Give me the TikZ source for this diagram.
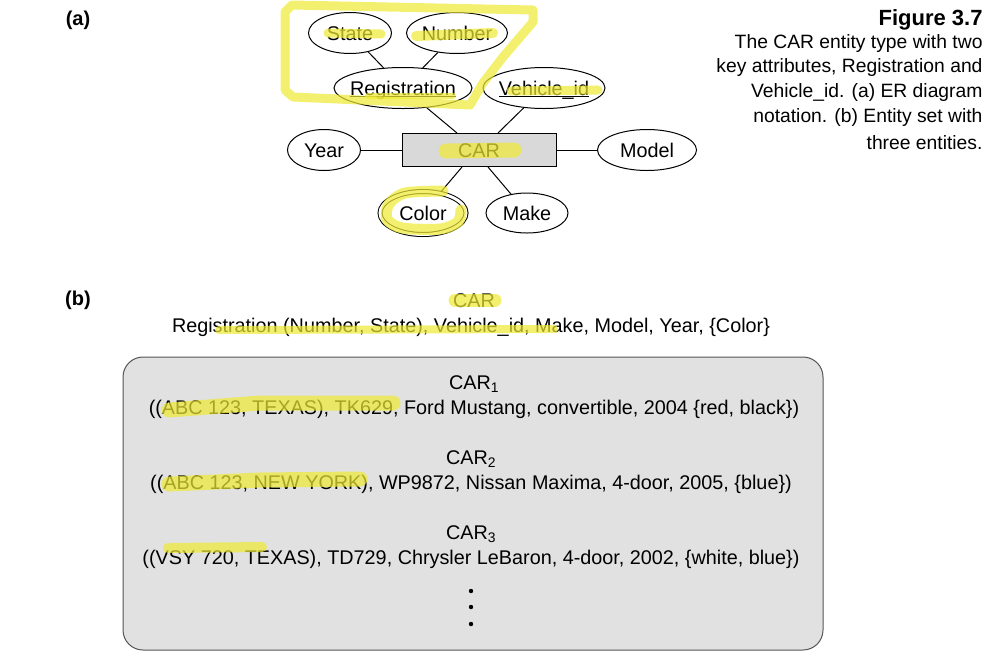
\documentclass[tikz,border=0pt]{standalone}
\usepackage{fontspec}
\setmainfont{Liberation Sans}
\usepackage{tikz}
\usetikzlibrary{shapes.geometric, positioning}
\definecolor{entgray}{RGB}{217,217,217}
\definecolor{setgray}{RGB}{225,225,225}
\definecolor{setedge}{RGB}{85,85,85}
\definecolor{hilite}{RGB}{240,234,50}
\newcommand{\keyattr}[1]{\makebox[0pt]{\underline{\smash{#1}}}}
\newcommand{\carfont}{\fontsize{19.8}{22}\selectfont}
\newcommand{\capfont}{\fontsize{19.3}{22}\selectfont}

\begin{document}
\begin{tikzpicture}[x=1pt, y=-1pt, line width=1pt,
  attr/.style={ellipse, draw, inner sep=0pt, minimum height=41pt, text height=16pt,
               text depth=2pt, font=\carfont},
  ent/.style={rectangle, draw, fill=entgray, minimum width=154pt, minimum height=33pt,
              text height=16pt, text depth=2pt, font=\carfont},
  txt/.style={inner sep=0pt, font=\carfont},
  tag/.style={inner sep=0pt, font=\fontsize{20}{22}\selectfont\bfseries},
  marker/.style={draw=hilite, draw opacity=0.7, line cap=round, line join=round}]
  \useasboundingbox (0,0) rectangle (1000,665);

  % (a) ER diagram
  \node[tag] (taga) at (78,20) {(a)};
  \node[ent] (car) at (479,150) {CAR};
  \node[attr, minimum width=83pt] (state) at (350,33) {State};
  \node[attr, minimum width=101pt] (number) at (457,33) {Number};
  \node[attr, minimum width=138pt] (reg) at (403,88) {\keyattr{Registration}};
  \node[attr, minimum width=122pt] (vid) at (544,88) {\keyattr{Vehicle\_id}};
  \node[attr, minimum width=73pt] (year) at (324,150) {Year};
  \node[attr, minimum width=99pt] (model) at (647,150) {Model};
  \node[attr, minimum width=86pt, minimum height=43pt, double, double distance=3pt,
        outer sep=2.5pt] (color) at (423,213) {Color};
  \node[attr, minimum width=82pt, minimum height=40pt] (make) at (527,213) {Make};

  \draw (state) -- (reg);
  \draw (number) -- (reg);
  \draw (reg) -- ([xshift=-22pt]car.north);
  \draw (vid) -- ([xshift=19pt]car.north);
  \draw (year) -- (car);
  \draw (car) -- (model);
  \draw ([xshift=-17pt]car.south) -- (color);
  \draw ([xshift=9pt]car.south) -- (make);

  % caption
  \node[tag, anchor=east, font=\fontsize{22}{24}\selectfont\bfseries] (fig) at (983,20) {Figure 3.7};
  \foreach \y/\l in {44/The CAR entity type with two,
                     68/{key attributes, Registration and},
                     93/Vehicle\_id. (a) ER diagram,
                     118/notation. (b) Entity set with,
                     143/three entities.} {
    \node[txt, anchor=east, font=\capfont] at (983,\y) {\l};
  }

  % (b) entity set
  \node[tag] (tagb) at (78,300) {(b)};
  \node[txt] (settitle) at (474,301) {CAR};
  \node[txt] (setattrs) at (471,327) {Registration (Number, State), Vehicle\_id, Make, Model, Year, \{Color\}};
  \node[draw=setedge, fill=setgray, rounded corners=20pt, minimum width=700pt,
        minimum height=293pt] (entset) at (473,503.5) {};

  \node[txt] (car1) at (474,384) {CAR\textsubscript{1}};
  \node[txt] (row1) at (474,409) {((ABC 123, TEXAS), TK629, Ford Mustang, convertible, 2004 \{red, black\})};
  \node[txt] (car2) at (471,459) {CAR\textsubscript{2}};
  \node[txt] (row2) at (471,484) {((ABC 123, NEW YORK), WP9872, Nissan Maxima, 4-door, 2005, \{blue\})};
  \node[txt] (car3) at (471,534) {CAR\textsubscript{3}};
  \node[txt] (row3) at (471,559) {((VSY 720, TEXAS), TD729, Chrysler LeBaron, 4-door, 2002, \{white, blue\})};
  \foreach \y in {591,607,624}
    \fill (471,\y) circle (2.2pt);

  % highlighter marks
  \draw[marker, line width=9pt] (292,5) -- (533,10) -- (533,22) -- (503,57) -- (483,83)
    -- (470,105) -- (293,97) -- (285,90) -- (285,12) -- cycle;
  \draw[marker, line width=9pt] (328,33) -- (381,34);
  \draw[marker, line width=10pt] (416,36) -- (493,33);
  \draw[marker, line width=6pt] (368,96) -- (453,96);
  \draw[marker, line width=9pt] (511,91) -- (598,90);
  \draw[marker, line width=15pt] (446,151) -- (514,150);
  \draw[marker, line width=11pt] plot[smooth] coordinates {(443,191) (405,193) (389,204)
    (387,219) (402,228) (440,229) (458,222) (461,210)};
  \draw[marker, line width=13pt] (455,300) -- (495,300);
  \draw[marker, line width=8pt] (219,330) -- (554,329);
  \draw[marker, line width=15pt] (169,410) -- (260,403) -- (393,403);
  \draw[marker, line width=15pt] (169,484) -- (260,480) -- (360,479);
  \draw[marker, line width=10pt] (168,548) -- (262,547);
\end{tikzpicture}
\end{document}
